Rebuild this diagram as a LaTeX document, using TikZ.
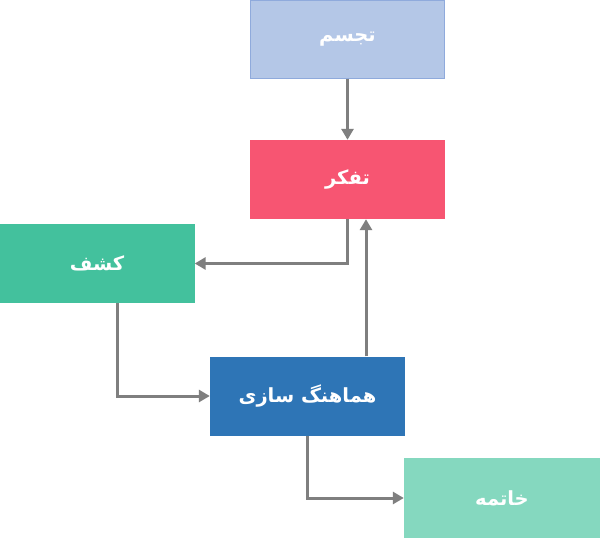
\documentclass[tikz,border=0pt]{standalone}
\usepackage{fontspec}
\newfontfamily\arabicfont[Script=Arabic]{DejaVu Sans}
\TeXXeTstate=1
\usetikzlibrary{arrows.meta,calc}
\definecolor{tajassom}{HTML}{B4C7E7}
\definecolor{tajassomline}{HTML}{8FAADC}
\definecolor{tafakkor}{HTML}{F75572}
\definecolor{kashf}{HTML}{43C19D}
\definecolor{hamahang}{HTML}{2E75B6}
\definecolor{khatemeh}{HTML}{85D8BF}
\definecolor{arrgray}{HTML}{7F7F7F}
\tikzset{
	stage/.style={minimum width=195pt, minimum height=79pt, inner sep=0pt, text=white, font=\arabicfont\bfseries\fontsize{19.5}{24}\selectfont},
	arr/.style={draw=arrgray, line width=3pt, -{Triangle[length=11pt,width=12pt]}}
}
\begin{document}
\begin{tikzpicture}[x=1pt, y=-1pt]
			\useasboundingbox[fill=white] (0,0) rectangle (600,538);
			
			\node[stage, fill=tajassom, draw=tajassomline, line width=1pt, minimum width=194pt, minimum height=78pt] (tajassom) at (347.5,39) {\beginR تجسم\endR};
			\node[stage, fill=tafakkor] (tafakkor) at (347.5,179.5) {\beginR تفکر\endR};
			\node[stage, fill=kashf] (kashf) at (97,263.5) {\beginR کشف\endR};
			\node[stage, fill=hamahang] (hamahang) at (307.5,396) {\beginR هماهنگ سازی\endR};
			\node[stage, fill=khatemeh, minimum width=196pt, minimum height=80pt] (khatemeh) at (502,498) {\beginR خاتمه\endR};
			
			\coordinate (kashfout) at ($(kashf.south)+(20,0)$);
			\coordinate (hamahangup) at ($(hamahang.north)+(58.5,0)$);
			
			\draw[arr] (tajassom) -- (tafakkor);
			\draw[arr] (tafakkor.south) |- (kashf.east);
			\draw[arr] (kashfout) |- (hamahang.west);
			\draw[arr] (hamahangup) -- (hamahangup |- tafakkor.south);
			\draw[arr] (hamahang.south) |- (khatemeh.west);
\end{tikzpicture}
\end{document}
